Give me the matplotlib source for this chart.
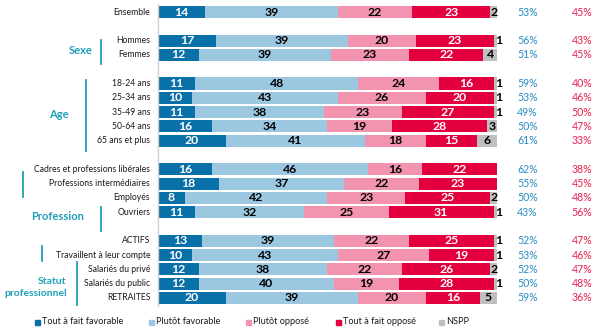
import matplotlib
matplotlib.use("Agg")
import matplotlib.pyplot as plt
from matplotlib.patches import Rectangle
from matplotlib.lines import Line2D

plt.rcParams['font.family'] = ['Lato', 'DejaVu Sans']

categories = ["Ensemble", "Hommes", "Femmes", "18-24 ans", "25-34 ans", "35-49 ans",
              "50-64 ans", "65 ans et plus", "Cadres et professions libérales",
              "Professions intermédiaires", "Employés", "Ouvriers", "ACTIFS",
              "Travaillent à leur compte", "Salariés du privé", "Salariés du public",
              "RETRAITES"]
rows = [0, 2, 3, 5, 6, 7, 8, 9, 11, 12, 13, 14, 16, 17, 18, 19, 20]

tout_fav = [14, 17, 12, 11, 10, 11, 16, 20, 16, 18, 8, 11, 13, 10, 12, 12, 20]
plutot_fav = [39, 39, 39, 48, 43, 38, 34, 41, 46, 37, 42, 32, 39, 43, 38, 40, 39]
plutot_opp = [22, 20, 23, 24, 26, 23, 19, 18, 16, 22, 23, 25, 22, 27, 22, 19, 20]
tout_opp = [23, 23, 22, 16, 20, 27, 28, 15, 22, 23, 25, 31, 25, 19, 26, 28, 16]
nspp = [2, 1, 4, 1, 1, 1, 3, 6, 0, 0, 2, 1, 1, 1, 2, 1, 5]

total_fav = [53, 56, 51, 59, 53, 49, 50, 61, 62, 55, 50, 43, 52, 53, 52, 50, 59]
total_opp = [45, 43, 45, 40, 46, 50, 47, 33, 38, 45, 48, 56, 47, 46, 47, 48, 36]

series_names = ["Tout à fait favorable", "Plutôt favorable", "Plutôt opposé",
                "Tout à fait opposé", "NSPP"]
series = [tout_fav, plutot_fav, plutot_opp, tout_opp, nspp]
colors = ["#0a70a8", "#9bc8e0", "#f294b0", "#e4003f", "#bfbfbf"]
text_colors = ["white", "black", "black", "white", "black"]

W, H = 600, 331
fig = plt.figure(figsize=(6.0, 3.31), dpi=100)
fig.patch.set_facecolor("white")


def fx(px):
    return px / W


def fy(py):
    return 1 - py / H


ax = fig.add_axes([fx(158), fy(306), fx(598) - fx(158), fy(4) - fy(306)])
ax.set_xlim(0, 129.8)
ax.set_ylim(20.56, -0.56)

left = [0] * len(categories)
for vals, col, tcol in zip(series, colors, text_colors):
    ax.barh(rows, vals, left=left, height=0.84, color=col, edgecolor="none")
    for r, v, l in zip(rows, vals, left):
        if v <= 0:
            continue
        xc = l + v / 2
        if col == colors[4] and v == 1:
            xc = l + v + 0.4
        ax.text(xc, r, str(v), ha="center", va="center", color=tcol,
                fontsize=8.8, fontweight="bold")
    left = [a + b for a, b in zip(left, vals)]

for r, a, b in zip(rows, total_fav, total_opp):
    ax.text(109, r, f"{a}%", ha="center", va="center", color="#2a8cc4", fontsize=7.6)
    ax.text(125, r, f"{b}%", ha="center", va="center", color="#e8204f", fontsize=7.6)

for r, c in zip(rows, categories):
    ax.text(-2.3, r, c, ha="right", va="center", color="#1a1a1a", fontsize=6.2)

ax.set_xticks([])
ax.set_yticks([])
for s in ["top", "right", "bottom"]:
    ax.spines[s].set_visible(False)
ax.spines["left"].set_color("#d0d0d0")
ax.spines["left"].set_linewidth(1.0)

teal = "#1fa0b8"


def vline(x, y0, y1):
    fig.add_artist(Line2D([fx(x), fx(x)], [fy(y0), fy(y1)], color=teal, lw=1.3))


vline(101, 40, 64)
vline(86, 80, 151)
vline(23, 172, 197)
vline(101, 207, 231)
vline(42, 246, 261)
vline(77, 262, 305)

fig.text(fx(81), fy(51), "Sexe", ha="center", va="center", color=teal,
         fontsize=8, fontweight="bold")
fig.text(fx(59), fy(115), "Age", ha="center", va="center", color=teal,
         fontsize=8, fontweight="bold")
fig.text(fx(58), fy(217), "Profession", ha="center", va="center", color=teal,
         fontsize=8, fontweight="bold")
fig.text(fx(52), fy(281), "Statut", ha="center", va="center", color=teal,
         fontsize=7.5, fontweight="bold")
fig.text(fx(36), fy(293), "professionnel", ha="center", va="center", color=teal,
         fontsize=7.5, fontweight="bold")

# legend row: small squares followed by their labels
legend_x = [35, 149, 246, 336, 439]
for x0, name, col in zip(legend_x, series_names, colors):
    fig.add_artist(Rectangle((fx(x0), fy(324.5)), fx(5), 5 / H, color=col,
                             transform=fig.transFigure))
    fig.text(fx(x0 + 7), fy(322), name, ha="left", va="center",
             color="#1a1a1a", fontsize=6.6)

fig.savefig("out.png", dpi=100, facecolor="white")
